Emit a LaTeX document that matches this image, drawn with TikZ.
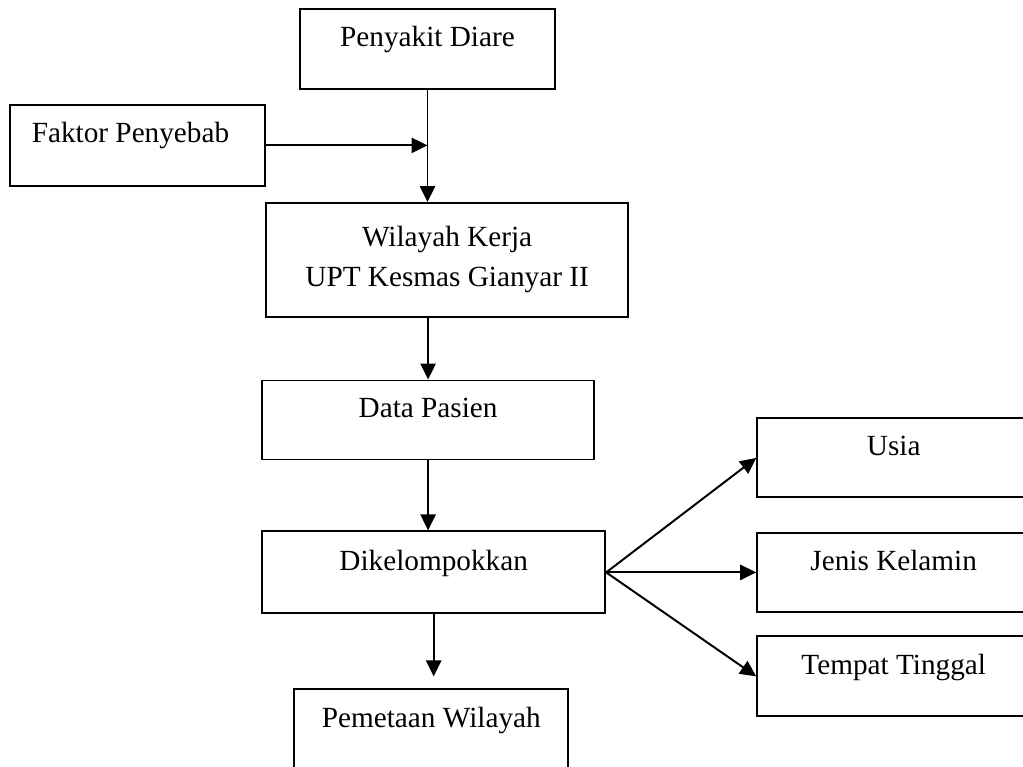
\documentclass[tikz,border=0pt]{standalone}
\usepackage{fontspec}
\setmainfont{Liberation Serif}
\usetikzlibrary{arrows.meta}

\begin{document}
\begin{tikzpicture}[node distance=4cm]
    \tikzset{
    block/.style={
        rectangle,
        draw,
        line width=1.4pt,
        minimum width=6.825cm,
        minimum height=2cm,
        align=center,
        text height=0.5cm,
        text depth=0.62cm,
        font=\fontsize{20.8pt}{28.45pt}\selectfont
    },
    arrow/.style={
        -{Triangle[length=0.4cm, width=0.38cm]}, line width=1.4pt
    }
}
    \useasboundingbox (0,0) rectangle (25.575,-19.175);
    \node[block, minimum width=6.375cm] (diare) at (10.6875,-1.225) {Penyakit Diare};
    \node[block, left of = diare, xshift=-3.25cm, yshift=-2.41cm, minimum width=6.375cm, minimum height=2.025cm] (faktor) {Faktor Penyebab\hspace*{0.35cm}};
    \node[block, below of = diare, xshift=0.49cm, yshift=-1.275cm, minimum width=9.05cm, minimum height=2.85cm, text height=, text depth=] (wilayah) {Wilayah Kerja\\UPT Kesmas Gianyar II};
    \node[block, below of = wilayah, xshift=-0.475cm, minimum width=8.3cm, minimum height=1.975cm] (data) {Data Pasien};
    \node[block, below of = data, xshift=0.14cm, yshift=0.19cm, minimum width=8.575cm, minimum height=2.05cm] (dikel) {Dikelompokkan};
    \node[block, below of = dikel, xshift=-0.06cm, yshift=0.075cm, minimum width=6.85cm] (pemetaan) {Pemetaan Wilayah};
    \node[block, right of = dikel, xshift=7.5cm, minimum height=1.975cm] (jenis) {Jenis Kelamin};
    \node[block, above of = jenis, yshift=-1.1375cm, minimum height=1.975cm] (usia) {Usia};
    \node[block, below of = jenis, yshift=1.4cm] (tempat) {Tempat Tinggal};

    % panah
    \draw[arrow] (diare.south) -- (diare.south |- wilayah.north);
    \draw[arrow] (faktor.east) -- (faktor.east -| diare.south);
    \draw[arrow] (data.north |- wilayah.south) -- (data.north);
    \draw[arrow] (data.south) -- (data.south |- dikel.north);
    \draw[arrow, shorten >=0.3cm] (dikel.south) -- (dikel.south |- pemetaan.north);
    \draw[arrow] (dikel.east) -- (usia.west);
    \draw[arrow] (dikel.east) -- (jenis.west);
    \draw[arrow] (dikel.east) -- (tempat.west);
\end{tikzpicture}
\end{document}
